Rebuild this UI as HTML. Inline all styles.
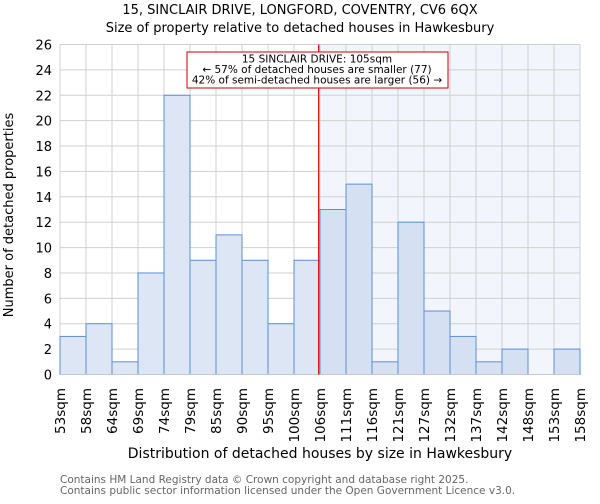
<!DOCTYPE html>
<html><head><meta charset="utf-8"><style>
body{margin:0;background:#fff;font-family:"DejaVu Sans","Liberation Sans",sans-serif;}
</style></head><body>
<svg id="c" width="600" height="500" xmlns="http://www.w3.org/2000/svg" font-family="DejaVu Sans, Liberation Sans, sans-serif">
<text x="300" y="14" text-anchor="middle" font-size="13">15, SINCLAIR DRIVE, LONGFORD, COVENTRY, CV6 6QX</text>
<text x="300" y="32" text-anchor="middle" font-size="13">Size of property relative to detached houses in Hawkesbury</text>
<g id="plot"></g>
<text x="320" y="458" text-anchor="middle" font-size="14">Distribution of detached houses by size in Hawkesbury</text>
<text transform="translate(13,215) rotate(-90)" text-anchor="middle" font-size="13">Number of detached properties</text>
<text x="60" y="483" font-size="10.5" fill="#666">Contains HM Land Registry data © Crown copyright and database right 2025.</text>
<text x="60" y="494" font-size="10.5" fill="#666">Contains public sector information licensed under the Open Government Licence v3.0.</text>
</svg>
<script>
const binLabels=["53sqm","58sqm","64sqm","69sqm","74sqm","79sqm","85sqm","90sqm","95sqm","100sqm","106sqm","111sqm","116sqm","121sqm","127sqm","132sqm","137sqm","142sqm","148sqm","153sqm","158sqm"];
const counts=[3,4,1,8,22,9,11,9,4,9,13,15,1,12,5,3,1,2,0,2];
const yTicks=[0,2,4,6,8,10,12,14,16,18,20,22,24,26];
const markerBin=9.95;
const X0=60,X1=580,Y0=374.5,Y1=44.5,YMAX=26;
const n=counts.length;
const bw=(X1-X0)/n;
const xs=i=>X0+i*bw;
const ys=v=>Y0-(v/YMAX)*(Y0-Y1);
const NS="http://www.w3.org/2000/svg";
const g=document.getElementById('plot');
function mk(t,a){const e=document.createElementNS(NS,t);for(const k in a)e.setAttribute(k,a[k]);g.appendChild(e);return e;}
const mx=xs(markerBin);
let e=mk('rect',{x:mx,y:Y1,width:X1-mx,height:Y0-Y1,fill:'#f2f5fc'});


for(let i=0;i<=n;i++){e=mk('line',{x1:xs(i),x2:xs(i),y1:Y1,y2:Y0,stroke:'#d0d0d0','stroke-width':1});

}
yTicks.forEach(t=>{e=mk('line',{x1:X0,x2:X1,y1:ys(t),y2:ys(t),stroke:'#d0d0d0','stroke-width':1});


const tx=mk('text',{x:X0-8,y:ys(t)+5,'text-anchor':'end','font-size':13});tx.textContent=t;

});
counts.forEach((v,i)=>{if(v<=0)return;const right=i>=markerBin-0.5;
e=mk('rect',{x:xs(i),y:ys(v),width:bw,height:Y0-ys(v),fill:right?'#d5e1f2':'#dce6f4',stroke:'#5b8fd8','stroke-width':1});

});
binLabels.forEach((l,i)=>{const x=xs(i);const tx=mk('text',{transform:`translate(${x+5},388) rotate(-90)`,'text-anchor':'end','font-size':13.5});tx.textContent=l;

});
e=mk('line',{x1:X0,x2:X1,y1:Y0,y2:Y0,stroke:'#c8c8c8'});


e=mk('line',{x1:mx,x2:mx,y1:Y1,y2:Y0,stroke:'#d00','stroke-width':1.2});


e=mk('rect',{x:187,y:52,width:261,height:36,fill:'#fff',stroke:'#c00','stroke-width':1});


["15 SINCLAIR DRIVE: 105sqm","← 57% of detached houses are smaller (77)","42% of semi-detached houses are larger (56) →"].forEach((s,k)=>{
const tx=mk('text',{x:317,y:62.5+k*10.5,'text-anchor':'middle','font-size':10.5});tx.textContent=s;

});
</script>
</body></html>
